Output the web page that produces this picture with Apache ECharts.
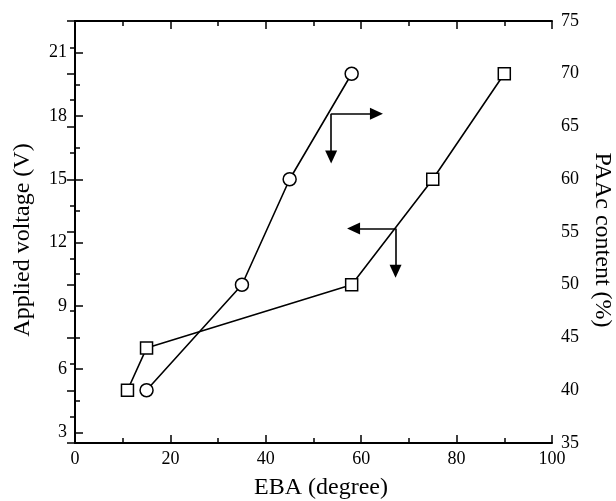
<!DOCTYPE html>
<html>
<head>
<meta charset="utf-8">
<script src="https://cdn.jsdelivr.net/npm/echarts@6/dist/echarts.min.js"></script>
<style>
  html, body { margin: 0; padding: 0; background: #fff; }
  #chart { width: 616px; height: 501px; }
</style>
</head>
<body>
<div id="chart"></div>
<script>
// Applied voltage vs EBA (left axis, squares)
const voltageEBA = [11, 15, 58, 75, 90];
const voltageValues = [5, 7, 10, 15, 20];

// PAAc content vs EBA (right axis, circles)
const paacEBA = [15, 35, 45, 58];
const paacValues = [40, 50, 60, 70];

// Left axis ticks
const voltageTicks = [3, 6, 9, 12, 15, 18, 21];
const voltageMinorTicks = [4.5, 7.5, 10.5, 13.5, 16.5, 19.5];

// Pointer arrows: [junctionX, junctionY, horizontalEndX, verticalEndY]
const paacArrow = [53.7, 66.2, 63.2, 62.1];
const voltageArrow = [67.2, 12.67, 58.4, 10.64];

const FONT = 'Liberation Serif';
const BLACK = '#000';

function pairs(xs, ys) { return xs.map((x, i) => [x, ys[i]]); }

function arrowLines(a) {
  return [
    [{ coord: [a[0], a[1]], symbol: 'none' }, { coord: [a[2], a[1]], symbol: 'triangle' }],
    [{ coord: [a[0], a[1]], symbol: 'none' }, { coord: [a[0], a[3]], symbol: 'triangle' }]
  ];
}

const markLineBase = {
  silent: true,
  animation: false,
  symbolSize: [12, 13],
  label: { show: false },
  lineStyle: { color: BLACK, width: 1.6, type: 'solid' },
  itemStyle: { color: BLACK }
};

const tickLabel = { color: BLACK, fontFamily: FONT, fontSize: 18 };
const axisLineStyle = { show: true, lineStyle: { color: BLACK, width: 2 } };
const majorTick = { inside: true, length: 8, lineStyle: { color: BLACK, width: 1.5 } };
const minorTick = { show: true, splitNumber: 2, length: 5, lineStyle: { color: BLACK, width: 1.5 } };

const chart = echarts.init(document.getElementById('chart'), null, { renderer: 'canvas' });
chart.setOption({
  animation: false,
  backgroundColor: '#fff',
  grid: { left: 75, right: 64, top: 21, bottom: 58, show: false, containLabel: false, outerBoundsMode: 'none' },
  xAxis: [
    {
      type: 'value', position: 'bottom', min: 0, max: 100, interval: 20,
      name: 'EBA (degree)', nameLocation: 'middle', nameGap: 33,
      nameTextStyle: { color: BLACK, fontFamily: FONT, fontSize: 24, padding: [0, 0, 0, 15] },
      axisLine: axisLineStyle,
      axisTick: majorTick,
      minorTick: minorTick,
      axisLabel: Object.assign({ margin: 7 }, tickLabel),
      splitLine: { show: false }
    },
    {
      type: 'value', position: 'top', min: 0, max: 100, interval: 20,
      axisLine: axisLineStyle,
      axisTick: majorTick,
      minorTick: minorTick,
      axisLabel: { show: false },
      splitLine: { show: false }
    }
  ],
  yAxis: [
    {
      type: 'value', position: 'left', min: 2.5, max: 22.5,
      name: 'Applied voltage (V)', nameLocation: 'middle', nameGap: 40, nameRotate: 90,
      nameTextStyle: { color: BLACK, fontFamily: FONT, fontSize: 24, padding: [0, 16, 0, 0] },
      axisLine: axisLineStyle,
      axisTick: Object.assign({ customValues: voltageTicks }, majorTick),
      axisLabel: Object.assign({ margin: 8, customValues: voltageTicks }, tickLabel),
      splitLine: { show: false }
    },
    {
      type: 'value', position: 'right', min: 35, max: 75, interval: 5,
      name: 'PAAc content (%)', nameLocation: 'middle', nameGap: 38, nameRotate: -90,
      nameTextStyle: { color: BLACK, fontFamily: FONT, fontSize: 24, padding: [0, 0, 0, 16] },
      axisLine: axisLineStyle,
      axisTick: majorTick,
      minorTick: minorTick,
      axisLabel: Object.assign({ margin: 9 }, tickLabel),
      splitLine: { show: false }
    },
    {
      // minor ticks of the voltage axis
      type: 'value', position: 'left', min: 2.5, max: 22.5,
      axisLine: { show: false },
      axisTick: { inside: true, length: 5, customValues: voltageMinorTicks, lineStyle: { color: BLACK, width: 1.5 } },
      axisLabel: { show: false },
      splitLine: { show: false }
    }
  ],
  series: [
    {
      name: 'Applied voltage', type: 'line', xAxisIndex: 0, yAxisIndex: 0,
      data: pairs(voltageEBA, voltageValues),
      symbol: 'rect', symbolSize: 12,
      lineStyle: { color: BLACK, width: 1.6 },
      itemStyle: { color: '#fff', borderColor: BLACK, borderWidth: 1.5 },
      z: 3,
      markLine: Object.assign({ data: arrowLines(voltageArrow) }, markLineBase)
    },
    {
      name: 'PAAc content', type: 'line', xAxisIndex: 0, yAxisIndex: 1,
      data: pairs(paacEBA, paacValues),
      symbol: 'circle', symbolSize: 13,
      lineStyle: { color: BLACK, width: 1.6 },
      itemStyle: { color: '#fff', borderColor: BLACK, borderWidth: 1.5 },
      z: 3,
      markLine: Object.assign({ data: arrowLines(paacArrow) }, markLineBase)
    }
  ]
});
</script>
</body>
</html>
